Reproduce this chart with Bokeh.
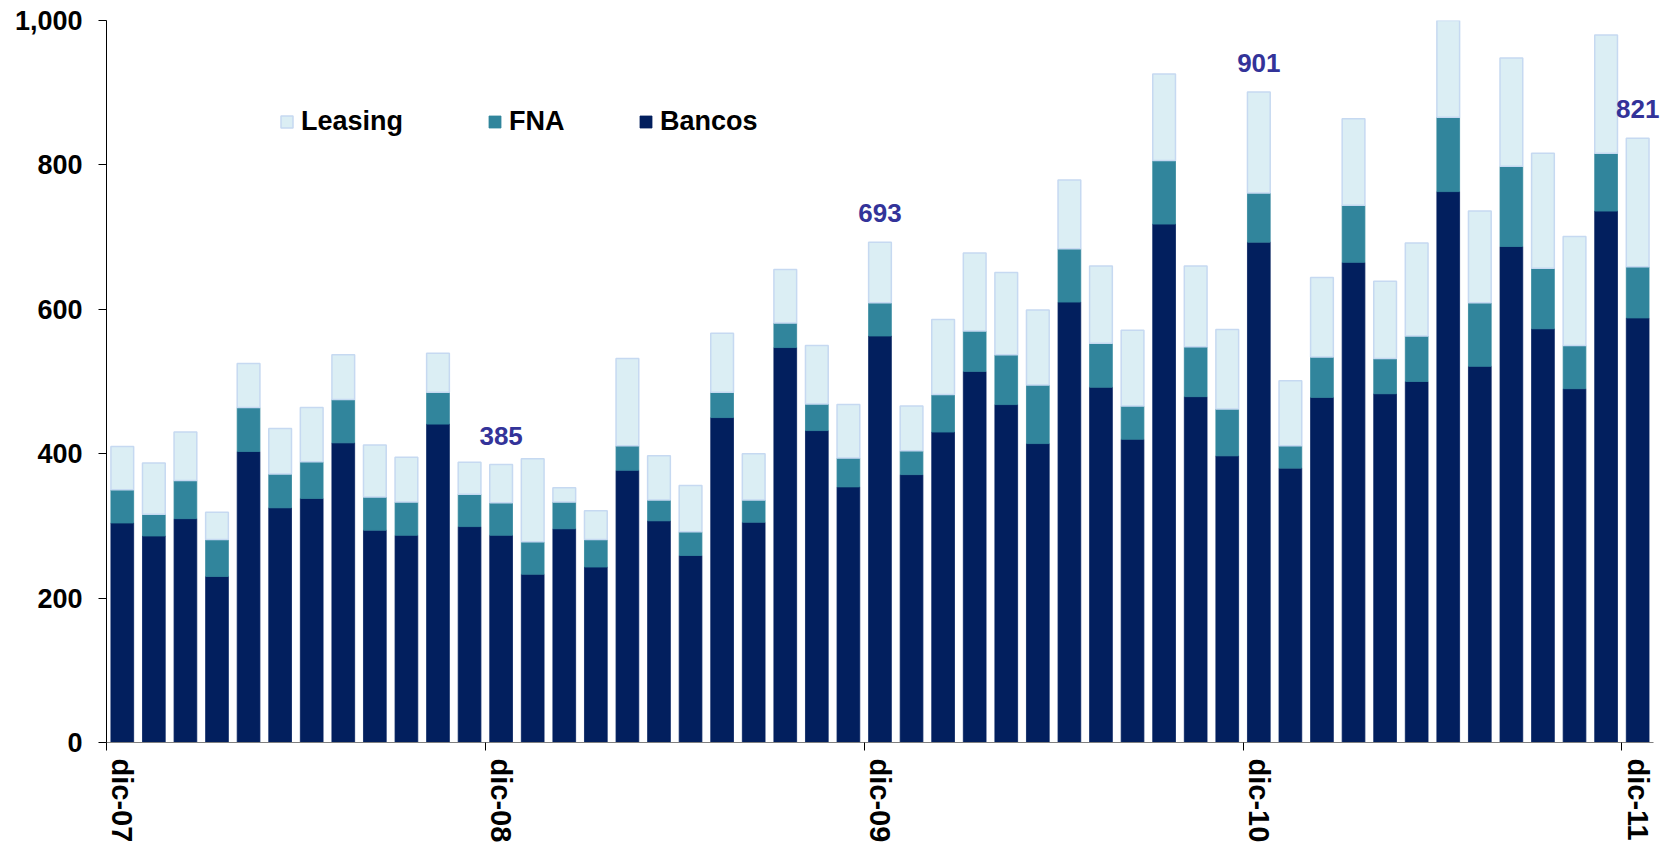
from bokeh.plotting import figure
from bokeh.models import (Range1d, LinearAxis, FixedTicker, NumeralTickFormatter,
                          ColumnDataSource, Legend, LegendItem, LabelSet)
from bokeh.core.properties import value
from bokeh.embed import file_html
from bokeh.resources import INLINE

# ---------------- data ----------------
months_es = ["ene", "feb", "mar", "abr", "may", "jun",
             "jul", "ago", "sep", "oct", "nov", "dic"]
categories = ["dic-07"] + [f"{months_es[m]}-{y:02d}" for y in range(8, 12) for m in range(12)]

bancos = [304, 286, 310, 230, 403, 325, 338, 415, 294, 287, 441, 299,
          287, 233, 296, 243, 377, 307, 259, 450, 305, 547, 432, 354,
          563, 371, 430, 514, 468, 414, 610, 492, 420, 718, 479, 397,
          693, 380, 478, 665, 483, 500, 763, 521, 687, 573, 490, 736,
          588]
fna = [46, 30, 53, 51, 61, 47, 51, 60, 46, 46, 44, 45,
       45, 45, 37, 38, 34, 29, 33, 35, 31, 34, 37, 40,
       46, 33, 52, 56, 69, 81, 74, 61, 46, 88, 69, 65,
       68, 31, 56, 79, 49, 63, 103, 88, 111, 84, 60, 80,
       71]
leasing = [60, 71, 67, 38, 61, 63, 75, 62, 72, 62, 54, 44,
           53, 115, 20, 40, 121, 61, 64, 82, 64, 74, 81, 74,
           84, 62, 104, 108, 114, 104, 95, 107, 105, 120, 112, 110,
           140, 90, 110, 120, 107, 129, 144, 127, 150, 159, 151, 164,
           178]

label_index = [12, 24, 36, 48]
label_text = ["385", "693", "901", "821"]

series_names = ["Bancos", "FNA", "Leasing"]
colors = ["#021F5E", "#31859C", "#DBEEF4"]
line_colors = ["#021F5E", "#31859C", "#C6D9F1"]

# ---------------- figure ----------------
n = len(categories)
xs = list(range(n))
src = ColumnDataSource(dict(x=xs, Bancos=bancos, FNA=fna, Leasing=leasing))

FONT = "Liberation Sans"

# a little extra room on the right so the last value label is not clipped;
# the axis line itself stops at the last category boundary (bounds)
p = figure(width=1675, height=845,
           x_range=Range1d(-0.5, n - 0.5 + 0.35), y_range=Range1d(0, 1000),
           output_backend="svg", toolbar_location=None,
           x_axis_location=None,
           min_border_left=106, min_border_right=11, min_border_top=20,
           min_border_bottom=10, outline_line_color=None,
           background_fill_color="white", border_fill_color="white")

renderers = p.vbar_stack(series_names, x="x", width=0.72, source=src,
                         fill_color=colors, line_color=line_colors,
                         line_width=[0.8, 0.8, 1.5])

# y axis
ya = p.yaxis[0]
ya.ticker = FixedTicker(ticks=[0, 200, 400, 600, 800, 1000])
ya.formatter = NumeralTickFormatter(format="0,0")
ya.major_tick_out = 8
ya.major_tick_in = 0
ya.minor_tick_out = 0
ya.minor_tick_in = 0
ya.axis_line_color = "black"
ya.major_tick_line_color = "black"
ya.major_label_standoff = 16
ya.major_label_text_font = FONT
ya.major_label_text_font_style = "bold"
ya.major_label_text_font_size = "27px"
ya.major_label_text_color = "black"

p.xgrid.visible = False
p.ygrid.visible = False

# x axis: tick marks at category boundaries before each December
dec_idx = [i for i, c in enumerate(categories) if c.startswith("dic")]
bounds = [i - 0.5 for i in dec_idx]
tick_axis = LinearAxis(ticker=FixedTicker(ticks=bounds),
                       bounds=(-0.5, n - 0.5),
                       major_tick_out=8, major_tick_in=0,
                       minor_tick_out=0, minor_tick_in=0,
                       axis_line_color="#808080", axis_line_width=1.2,
                       major_tick_line_color="black",
                       major_label_standoff=0,
                       major_label_text_font_size="0px",
                       major_label_overrides={b: "" for b in bounds})
p.add_layout(tick_axis, "below")

label_axis = LinearAxis(ticker=FixedTicker(ticks=dec_idx),
                        major_label_overrides={i: categories[i] for i in dec_idx},
                        major_tick_out=0, major_tick_in=0,
                        minor_tick_out=0, minor_tick_in=0,
                        axis_line_color=None,
                        major_label_orientation="vertical",
                        major_label_standoff=8,
                        major_label_text_font=FONT,
                        major_label_text_font_style="bold",
                        major_label_text_font_size="29px",
                        major_label_text_color="black")
p.add_layout(label_axis, "below")

# legend: one legend per entry so each can sit where the reference puts it
legend_x = {2: 173, 1: 381, 0: 532}
for k in (2, 1, 0):
    lg = Legend(items=[LegendItem(label=series_names[k], renderers=[renderers[k]])],
                orientation="horizontal", location=(legend_x[k], 605),
                glyph_width=15, glyph_height=15, label_standoff=7,
                padding=0, margin=0, border_line_color=None,
                background_fill_alpha=0,
                label_text_font=FONT, label_text_font_style="bold",
                label_text_font_size="27px", label_text_color="black")
    p.add_layout(lg)

# value labels
totals = [b + f + l for b, f, l in zip(bancos, fna, leasing)]
lab_src = ColumnDataSource(dict(x=label_index,
                                y=[totals[i] for i in label_index],
                                text=label_text))
labels = LabelSet(x="x", y="y", text="text", source=lab_src,
                  text_align="center", text_baseline="alphabetic",
                  y_offset=20, text_font=value(FONT), text_font_style="bold",
                  text_font_size="26px", text_color="#333399")
p.add_layout(labels)

open("out.html", "w").write(file_html(p, INLINE))
